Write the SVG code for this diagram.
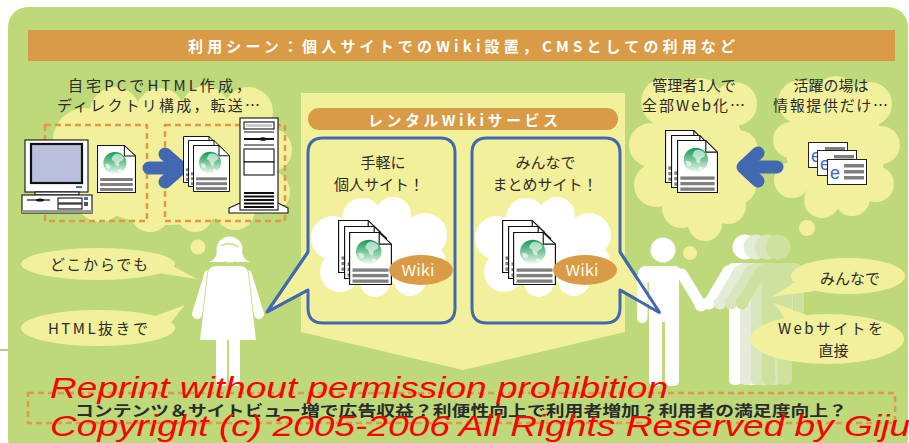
<svg xmlns="http://www.w3.org/2000/svg" xmlns:xlink="http://www.w3.org/1999/xlink" width="909" height="443" viewBox="0 0 909 443">
<defs>
  <style>
    .jp{font-family:"Noto Sans CJK JP","Noto Sans",sans-serif;fill:#2b2b2b;font-size:15px}
    .c{text-anchor:middle}
    .wt{fill:#fff;font-weight:bold}
    .cloud{fill:#F3F09B}
    .wcloud{fill:#fff}
    .dash{fill:none;stroke:#E0994C;stroke-width:2.5;stroke-dasharray:6 4}
    .blue{fill:none;stroke:#4268B2;stroke-width:13;stroke-linecap:round;stroke-linejoin:round}
    .box{fill:#F3F09B;stroke:#4268B2;stroke-width:3;stroke-linejoin:round}
    .ptr{fill:none;stroke:#4268B2;stroke-width:3;stroke-linejoin:miter}
    .ln{fill:#fff;stroke:#111;stroke-width:1.1}
    .wm{font-family:"Liberation Sans",Arial,sans-serif;font-style:italic;font-size:30px;fill:#FF0000}
  </style>
  <linearGradient id="globe" x1="0" y1="0" x2="0" y2="1">
    <stop offset="0" stop-color="#149A58"/>
    <stop offset="0.55" stop-color="#84CCA0"/>
    <stop offset="1" stop-color="#F2FAF4"/>
  </linearGradient>
  <!-- web page document with globe -->
  <symbol id="doc" viewBox="0 0 37 48" preserveAspectRatio="none" overflow="visible">
    <path d="M0.5,0.5 H26 L36.5,11 V47.5 H0.5 Z" fill="#fff" stroke="#111" stroke-width="1"/>
    <path d="M26,0.5 V11 H36.5" fill="none" stroke="#111" stroke-width="1"/>
    <circle cx="17" cy="18" r="11" fill="url(#globe)"/>
    <path d="M17,9 q5,-1 8,3 q1,3 -2,4 q-3,1 -2,5 q-3,1 -4,-3 q-1,-3 -3,-3 q0,-4 3,-6z" fill="#fff" opacity="0.6"/>
    <path d="M8,19 q3,-1 5,2 q0,3 -3,3 q-2,-1 -2,-5z" fill="#fff" opacity="0.6"/>
    <path d="M20,24 q3,0 4,2 q-2,2 -4,1z" fill="#fff" opacity="0.6"/>
    <rect x="3" y="33" width="31" height="3" fill="#7f7f7f"/>
    <rect x="3" y="38" width="31" height="3" fill="#7f7f7f"/>
    <rect x="3" y="43" width="31" height="3" fill="#7f7f7f"/>
  </symbol>
  <!-- browser window with e mark -->
  <symbol id="ie" viewBox="0 0 40 26" overflow="visible">
    <rect x="0.5" y="0.5" width="39" height="25" fill="#fff" stroke="#222" stroke-width="1"/>
    <rect x="17" y="5" width="20" height="3.5" fill="#7f7f7f"/>
    <rect x="17" y="11" width="20" height="3.5" fill="#7f7f7f"/>
    <rect x="17" y="17" width="20" height="3.5" fill="#7f7f7f"/>
    <text x="3" y="20" font-family="Liberation Sans, Arial, sans-serif" font-size="18" fill="#3E6BC2">e</text>
  </symbol>
</defs>

<rect width="909" height="443" fill="#fff"/>
<line x1="0" y1="350" x2="9" y2="350" stroke="#B5CC92" stroke-width="2"/>
<rect x="8" y="7" width="900" height="452" rx="20" fill="#BDD979"/>

<!-- title banner -->
<g id="banner">
  <rect x="28" y="30" width="867" height="31" fill="#D99B45"/>
  <text class="jp wt c" x="461.5" y="52" font-size="17" textLength="547" lengthAdjust="spacing">利用シーン：個人サイトでのWiki設置，CMSとしての利用など</text>
</g>

<!-- thought clouds -->
<g id="cloud-left" class="cloud">
  <ellipse cx="170" cy="165" rx="100" ry="60"/>
  <circle cx="85" cy="140" r="32"/>
  <circle cx="75" cy="175" r="25"/>
  <circle cx="115" cy="112" r="25"/>
  <circle cx="160" cy="112" r="24"/>
  <circle cx="205" cy="110" r="24"/>
  <circle cx="248" cy="112" r="25"/>
  <circle cx="270" cy="150" r="22"/>
  <circle cx="268" cy="192" r="22"/>
  <circle cx="235" cy="210" r="20"/>
  <circle cx="195" cy="214" r="18"/>
  <circle cx="150" cy="212" r="20"/>
  <circle cx="100" cy="198" r="24"/>
  <circle cx="198" cy="247" r="7.5"/>
</g>
<g id="cloud-admin" class="cloud">
  <ellipse cx="695" cy="155" rx="50" ry="60"/>
  <circle cx="665" cy="102" r="24"/>
  <circle cx="700" cy="100" r="22"/>
  <circle cx="735" cy="104" r="22"/>
  <circle cx="651" cy="145" r="22"/>
  <circle cx="738" cy="150" r="20"/>
  <circle cx="656" cy="185" r="22"/>
  <circle cx="738" cy="186" r="18"/>
  <circle cx="682" cy="208" r="20"/>
  <circle cx="705" cy="224" r="17"/>
  <circle cx="728" cy="206" r="18"/>
  <circle cx="690" cy="253" r="7"/>
</g>
<g id="cloud-info" class="cloud">
  <ellipse cx="836" cy="150" rx="50" ry="50"/>
  <circle cx="800" cy="102" r="22"/>
  <circle cx="836" cy="98" r="22"/>
  <circle cx="870" cy="104" r="22"/>
  <circle cx="791" cy="140" r="18"/>
  <circle cx="881" cy="145" r="19"/>
  <circle cx="792" cy="180" r="18"/>
  <circle cx="876" cy="184" r="18"/>
  <circle cx="822" cy="200" r="18"/>
  <circle cx="852" cy="198" r="18"/>
  <circle cx="807" cy="228" r="8"/>
</g>

<!-- home PC, upload, server -->
<g id="local">
  <text class="jp" x="68" y="90.5" textLength="183" lengthAdjust="spacing">自宅PCでHTML作成，</text>
  <text class="jp" x="57" y="111" textLength="203" lengthAdjust="spacing">ディレクトリ構成，転送…</text>
  <rect class="dash" x="45" y="125" width="102" height="96"/>
  <rect class="dash" x="165" y="125" width="120" height="96"/>
  <g id="pc">
    <rect class="ln" x="25" y="140" width="63" height="52"/>
    <rect x="31" y="144" width="51" height="39" fill="#B9BFDD" stroke="#111" stroke-width="2.2"/>
    <rect x="76" y="186" width="6" height="2" fill="#3A6FC4"/>
    <rect class="ln" x="35" y="192" width="44" height="3"/>
    <rect class="ln" x="22" y="195" width="70" height="18"/>
    <line x1="27" y1="200" x2="50" y2="200" stroke="#111" stroke-width="1.2"/>
    <ellipse cx="40" cy="200" rx="4" ry="1.6" fill="#111"/>
    <rect class="ln" x="58" y="198" width="24" height="5"/>
    <rect class="ln" x="58" y="204" width="24" height="5"/>
    <rect x="84" y="197" width="4" height="3" fill="#3A6FC4"/>
    <rect x="84" y="202" width="4" height="4" fill="#555"/>
    <rect x="22" y="210" width="70" height="3" fill="#9a9a9a"/>
  </g>
  <use xlink:href="#doc" href="#doc" x="97" y="145" width="39" height="48"/>
  <line class="blue" x1="149" y1="168" x2="180" y2="168"/>
  <polyline class="blue" points="165,154 181,168 165,182"/>
  <use xlink:href="#doc" href="#doc" x="183" y="136" width="37" height="47"/>
  <use xlink:href="#doc" href="#doc" x="188" y="140" width="37" height="47"/>
  <use xlink:href="#doc" href="#doc" x="193" y="145" width="37" height="47"/>
  <g id="server">
    <path class="ln" d="M229,213 V208 L240,203 H278 L288,208 V213 Z"/>
    <rect class="ln" x="240" y="118" width="38" height="92"/>
    <rect class="ln" x="244" y="122" width="30" height="7"/>
    <rect x="246" y="124" width="26" height="3" fill="#ccc"/>
    <line x1="244" y1="132" x2="274" y2="132" stroke="#111" stroke-width="1"/>
    <line x1="244" y1="139" x2="274" y2="139" stroke="#111" stroke-width="2"/>
    <ellipse cx="263" cy="139" rx="4" ry="1.8" fill="#111"/>
    <line x1="244" y1="145" x2="274" y2="145" stroke="#111" stroke-width="1"/>
    <rect class="ln" x="244" y="149" width="30" height="13"/>
    <rect class="ln" x="244" y="162" width="30" height="13"/>
    <rect x="244" y="192" width="30" height="2" fill="#111"/>
    <rect x="244" y="195.5" width="30" height="2" fill="#111"/>
    <rect x="244" y="199" width="30" height="2" fill="#111"/>
    <rect x="244" y="202.5" width="30" height="2" fill="#111"/>
    <rect x="244" y="206" width="30" height="2" fill="#111"/>
  </g>
</g>

<!-- rental wiki service panel -->
<g id="service">
  <polygon points="301,93 625,93 625,332 463,370 301,332" fill="#F3F09B"/>
  <rect x="308" y="108" width="310" height="22" rx="11" fill="#D99B45"/>
  <text class="jp wt c" x="463" y="125.5" font-size="17" textLength="190" lengthAdjust="spacing">レンタルWikiサービス</text>
</g>

<g id="box-personal">
  <path class="box" d="M323,138 H440 Q455,138 455,153 V308 Q455,323 440,323 H323 Q308,323 308,308 V290 L267,312 L308,252 V153 Q308,138 323,138 Z"/>
  <text class="jp c" x="383" y="168" font-size="16">手軽に</text>
  <text class="jp c" x="379" y="189.5" font-size="16">個人サイト！</text>
  <g class="wcloud">
    <ellipse cx="380" cy="250" rx="52" ry="33"/>
    <circle cx="333" cy="238" r="22"/>
    <circle cx="362" cy="218" r="20"/>
    <circle cx="393" cy="215" r="18"/>
    <circle cx="425" cy="235" r="22"/>
    <circle cx="428" cy="262" r="18"/>
    <circle cx="410" cy="280" r="16"/>
    <circle cx="375" cy="282" r="15"/>
    <circle cx="340" cy="272" r="20"/>
  </g>
  <use xlink:href="#doc" href="#doc" x="338" y="220" width="43" height="53"/>
  <use xlink:href="#doc" href="#doc" x="344" y="226" width="43" height="53"/>
  <use xlink:href="#doc" href="#doc" x="349" y="232" width="43" height="53"/>
  <ellipse cx="421" cy="270" rx="32" ry="15" fill="#D99B45"/>
  <text class="jp c" x="418" y="276" font-size="17" style="fill:#FFF8EA" textLength="33" lengthAdjust="spacingAndGlyphs">Wiki</text>
</g>

<g id="box-shared">
  <path class="box" d="M487,138 H605 Q620,138 620,153 V252 L660,313 L620,290 V308 Q620,323 605,323 H487 Q472,323 472,308 V153 Q472,138 487,138 Z"/>
  <text class="jp c" x="545.5" y="168" font-size="16">みんなで</text>
  <text class="jp c" x="545" y="189.5" font-size="16">まとめサイト！</text>
  <g class="wcloud" transform="translate(164,0)">
    <ellipse cx="380" cy="250" rx="52" ry="33"/>
    <circle cx="333" cy="238" r="22"/>
    <circle cx="362" cy="218" r="20"/>
    <circle cx="393" cy="215" r="18"/>
    <circle cx="425" cy="235" r="22"/>
    <circle cx="428" cy="262" r="18"/>
    <circle cx="410" cy="280" r="16"/>
    <circle cx="375" cy="282" r="15"/>
    <circle cx="340" cy="272" r="20"/>
  </g>
  <use xlink:href="#doc" href="#doc" x="502" y="220" width="43" height="53"/>
  <use xlink:href="#doc" href="#doc" x="508" y="226" width="43" height="53"/>
  <use xlink:href="#doc" href="#doc" x="513" y="232" width="43" height="53"/>
  <ellipse cx="585" cy="270" rx="32" ry="15" fill="#D99B45"/>
  <text class="jp c" x="582" y="276" font-size="17" style="fill:#FFF8EA" textLength="33" lengthAdjust="spacingAndGlyphs">Wiki</text>
</g>

<!-- CMS side -->
<g id="admin">
  <text class="jp c" x="694" y="90.5">管理者1人で</text>
  <text class="jp c" x="693.5" y="111" textLength="103" lengthAdjust="spacing">全部Web化…</text>
  <use xlink:href="#doc" href="#doc" x="665" y="130" width="41" height="53"/>
  <use xlink:href="#doc" href="#doc" x="671" y="135" width="41" height="53"/>
  <use xlink:href="#doc" href="#doc" x="677" y="140" width="41" height="53"/>
</g>
<g id="info">
  <text class="jp c" x="831" y="90.5">活躍の場は</text>
  <text class="jp c" x="830.5" y="111" textLength="115" lengthAdjust="spacing">情報提供だけ…</text>
  <use xlink:href="#ie" href="#ie" x="808" y="142" width="40" height="26"/>
  <use xlink:href="#ie" href="#ie" x="817" y="150" width="40" height="26"/>
  <use xlink:href="#ie" href="#ie" x="827" y="159" width="40" height="26"/>
</g>
<g id="connectors">
  <line class="blue" x1="744" y1="167" x2="777" y2="167"/>
  <polyline class="blue" points="758,153 743,167 758,181"/>
</g>

<!-- woman -->
<g id="woman" fill="#fff">
  <line x1="209" y1="275" x2="197" y2="314" stroke="#fff" stroke-width="10" stroke-linecap="round"/>
  <line x1="247" y1="275" x2="259" y2="314" stroke="#fff" stroke-width="10" stroke-linecap="round"/>
  <path d="M216,266 H240 Q247,266 248,273 L256,340 H200 L208,273 Q209,266 216,266 Z" stroke="#BDD979" stroke-width="1.6" paint-order="stroke"/>
  <rect x="216" y="336" width="11" height="50" rx="4"/>
  <rect x="229" y="336" width="11" height="50" rx="4"/>
  <circle cx="229.5" cy="249.5" r="13"/>
  <path d="M217,250 Q217,259 209,262 L224,262 Z"/>
  <path d="M242,250 Q242,259 250,262 L235,262 Z"/>
  <path d="M221,246 Q230,241 238,247" fill="none" stroke="#BDD979" stroke-width="1.2"/>
</g>

<!-- man and group of people -->
<g id="man" fill="#fff">
  <circle cx="663" cy="250" r="12.5"/>
  <rect x="638" y="266" width="44" height="16" rx="8"/>
  <rect x="637" y="272" width="10.5" height="51" rx="5.2"/>
  <rect x="649" y="272" width="30" height="50"/>
  <line x1="682" y1="274" x2="699" y2="302" stroke="#fff" stroke-width="11" stroke-linecap="round"/>
  <circle cx="701" cy="305" r="6.5"/>
  <rect x="649" y="315" width="13" height="71" rx="5"/>
  <rect x="665" y="315" width="14" height="71" rx="5"/>
</g>
<g id="people">
  <g fill="#FFFFFF">
    <circle cx="745" cy="247" r="12.5"/>
    <rect x="726" y="263" width="44" height="16" rx="8"/>
    <rect x="760.5" y="269" width="10.5" height="51" rx="5.2"/>
    <rect x="729" y="269" width="30" height="50"/>
    <line x1="728" y1="271" x2="711" y2="300" stroke="#FFFFFF" stroke-width="11" stroke-linecap="round"/>
    <circle cx="709" cy="303" r="6.5"/>
    <rect x="729" y="312" width="13" height="73" rx="5"/>
    <rect x="745" y="312" width="14" height="73" rx="5"/>
  </g>
  <g fill="#E4ECD8" transform="translate(11,0)">
    <circle cx="745" cy="247" r="12.5"/>
    <rect x="726" y="263" width="44" height="16" rx="8"/>
    <rect x="760.5" y="269" width="10.5" height="51" rx="5.2"/>
    <rect x="729" y="269" width="30" height="50"/>
    <line x1="728" y1="271" x2="711" y2="300" stroke="#E4ECD8" stroke-width="11" stroke-linecap="round"/>
    <circle cx="709" cy="303" r="6.5"/>
    <rect x="729" y="312" width="13" height="73" rx="5"/>
    <rect x="745" y="312" width="14" height="73" rx="5"/>
  </g>
  <g fill="#D9E6BD" transform="translate(22,0)">
    <circle cx="745" cy="247" r="12.5"/>
    <rect x="726" y="263" width="44" height="16" rx="8"/>
    <rect x="760.5" y="269" width="10.5" height="51" rx="5.2"/>
    <rect x="729" y="269" width="30" height="50"/>
    <line x1="728" y1="271" x2="711" y2="300" stroke="#D9E6BD" stroke-width="11" stroke-linecap="round"/>
    <circle cx="709" cy="303" r="6.5"/>
    <rect x="729" y="312" width="13" height="73" rx="5"/>
    <rect x="745" y="312" width="14" height="73" rx="5"/>
  </g>
  <g fill="#CEE19F" transform="translate(33,0)">
    <circle cx="745" cy="247" r="12.5"/>
    <rect x="726" y="263" width="44" height="16" rx="8"/>
    <rect x="760.5" y="269" width="10.5" height="51" rx="5.2"/>
    <rect x="729" y="269" width="30" height="50"/>
    <line x1="728" y1="271" x2="711" y2="300" stroke="#CEE19F" stroke-width="11" stroke-linecap="round"/>
    <circle cx="709" cy="303" r="6.5"/>
    <rect x="729" y="312" width="13" height="73" rx="5"/>
    <rect x="745" y="312" width="14" height="73" rx="5"/>
  </g>
</g>

<!-- speech pointers drawn over the figures -->
<g id="pointers">
  <polyline class="ptr" points="308,252 267,312 308,290"/>
  <polyline class="ptr" points="620,252 660,313 620,290"/>
</g>

<!-- speech bubbles -->
<g id="say-anywhere">
  <ellipse class="cloud" cx="98" cy="264" rx="77" ry="16"/>
  <polygon class="cloud" points="160,259 197,279 158,273"/>
  <text class="jp" x="50" y="269.5" textLength="98" lengthAdjust="spacing">どこからでも</text>
</g>
<g id="say-nohtml">
  <ellipse class="cloud" cx="98" cy="328" rx="77" ry="18"/>
  <polygon class="cloud" points="150,318 185,305 168,326"/>
  <text class="jp" x="48" y="334" textLength="100" lengthAdjust="spacing">HTML抜きで</text>
</g>
<g id="say-together">
  <ellipse class="cloud" cx="848" cy="276" rx="57" ry="18"/>
  <polygon class="cloud" points="800,279 772,297 815,291"/>
  <text class="jp c" x="850" y="284" font-size="16">みんなで</text>
</g>
<g id="say-direct">
  <ellipse class="cloud" cx="827" cy="339" rx="77" ry="25"/>
  <polygon class="cloud" points="790,325 774,303 815,318"/>
  <text class="jp c" x="830.5" y="334" font-size="16" textLength="105" lengthAdjust="spacing">Webサイトを</text>
  <text class="jp c" x="833.5" y="356" font-size="16">直接</text>
</g>

<!-- goals -->
<g id="goals">
  <rect class="dash" x="28" y="393" width="867" height="30"/>
  <text class="jp c" x="461" y="415.5" font-size="17" font-weight="bold" textLength="772" lengthAdjust="spacingAndGlyphs">コンテンツ＆サイトビュー増で広告収益？利便性向上で利用者増加？利用者の満足度向上？</text>
</g>

<!-- notice -->
<g id="notice">
  <text class="wm" x="50" y="398" textLength="618" lengthAdjust="spacingAndGlyphs">Reprint without permission prohibition</text>
  <text class="wm" x="50" y="436" textLength="860" lengthAdjust="spacingAndGlyphs">Copyright (c) 2005-2006 All Rights Reserved by Giju</text>
</g>
</svg>
